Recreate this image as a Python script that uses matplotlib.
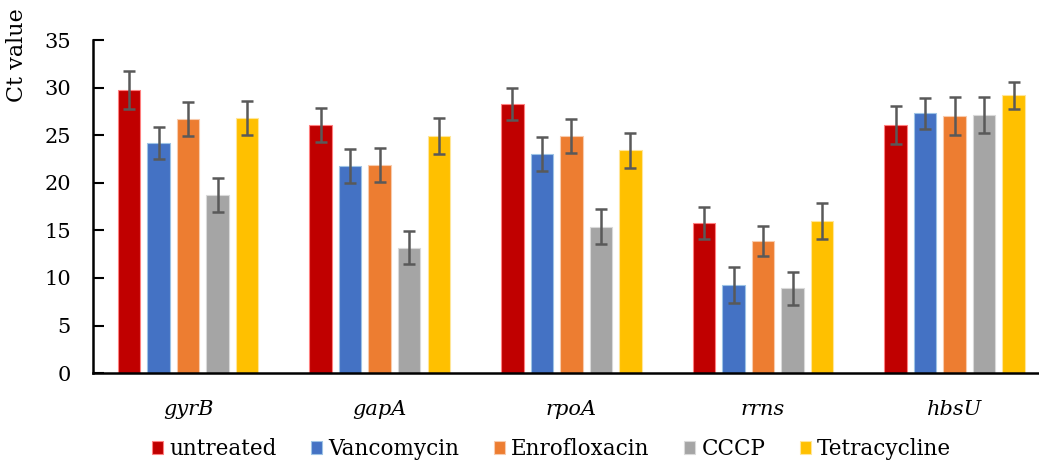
import matplotlib
matplotlib.use('Agg')
import matplotlib.pyplot as plt
import numpy as np

plt.rcParams['font.family'] = ['DejaVu Serif']

genes = ['gyrB', 'gapA', 'rpoA', 'rrns', 'hbsU']
treatments = ['untreated', 'Vancomycin', 'Enrofloxacin', 'CCCP', 'Tetracycline']

untreated = [29.7, 26.1, 28.3, 15.8, 26.1]
vancomycin = [24.2, 21.8, 23.0, 9.3, 27.3]
enrofloxacin = [26.7, 21.9, 24.9, 13.9, 27.0]
cccp = [18.7, 13.2, 15.4, 8.9, 27.1]
tetracycline = [26.8, 24.9, 23.4, 16.0, 29.2]

err_untreated = [2.0, 1.8, 1.7, 1.7, 2.0]
err_vancomycin = [1.7, 1.8, 1.8, 1.9, 1.6]
err_enrofloxacin = [1.8, 1.8, 1.8, 1.6, 2.0]
err_cccp = [1.8, 1.7, 1.8, 1.7, 1.9]
err_tetracycline = [1.8, 1.9, 1.8, 1.9, 1.4]

series = [untreated, vancomycin, enrofloxacin, cccp, tetracycline]
errors = [err_untreated, err_vancomycin, err_enrofloxacin, err_cccp, err_tetracycline]
colors = ['#C00000', '#4472C4', '#ED7D31', '#A5A5A5', '#FFC000']
edges = ['#FF8080', '#9DC3E6', '#F8CBAD', '#D9D9D9', '#FFE699']

fig = plt.figure(figsize=(10.39, 4.63), dpi=100)
ax = fig.add_axes([0.0895, 0.194, 0.9105, 0.7196])

x = np.arange(len(genes))
pitch = 0.154
width = 0.117
for i, (vals, errs) in enumerate(zip(series, errors)):
    ax.bar(x + (i - 2) * pitch, vals, width, color=colors[i], edgecolor=edges[i],
           linewidth=0.8, label=treatments[i], zorder=2,
           yerr=errs, error_kw=dict(ecolor='#595959', elinewidth=1.8, capsize=4, capthick=1.8))

ax.set_ylim(0, 35)
ax.set_xlim(-0.496, 4.44)
ax.set_yticks(range(0, 36, 5))
ax.set_xticks(x)
ax.set_xticklabels(genes, fontstyle='italic', fontsize=15)
ax.tick_params(axis='x', length=0, pad=19)
ax.tick_params(axis='y', direction='in', length=8, width=1.5, labelsize=15, pad=16)
for s in ['top', 'right']:
    ax.spines[s].set_visible(False)
ax.spines['left'].set_linewidth(1.8)
ax.spines['bottom'].set_linewidth(1.8)
ax.set_ylabel('Ct value', fontsize=16)
ax.yaxis.set_label_coords(-0.069, 0.955)

fig.legend(loc='center', bbox_to_anchor=(0.531, 0.03), ncol=5, frameon=False,
           fontsize=15.5, handlelength=0.5, handleheight=0.5, handletextpad=0.3,
           columnspacing=1.6)

fig.savefig('out.png', dpi=100)
